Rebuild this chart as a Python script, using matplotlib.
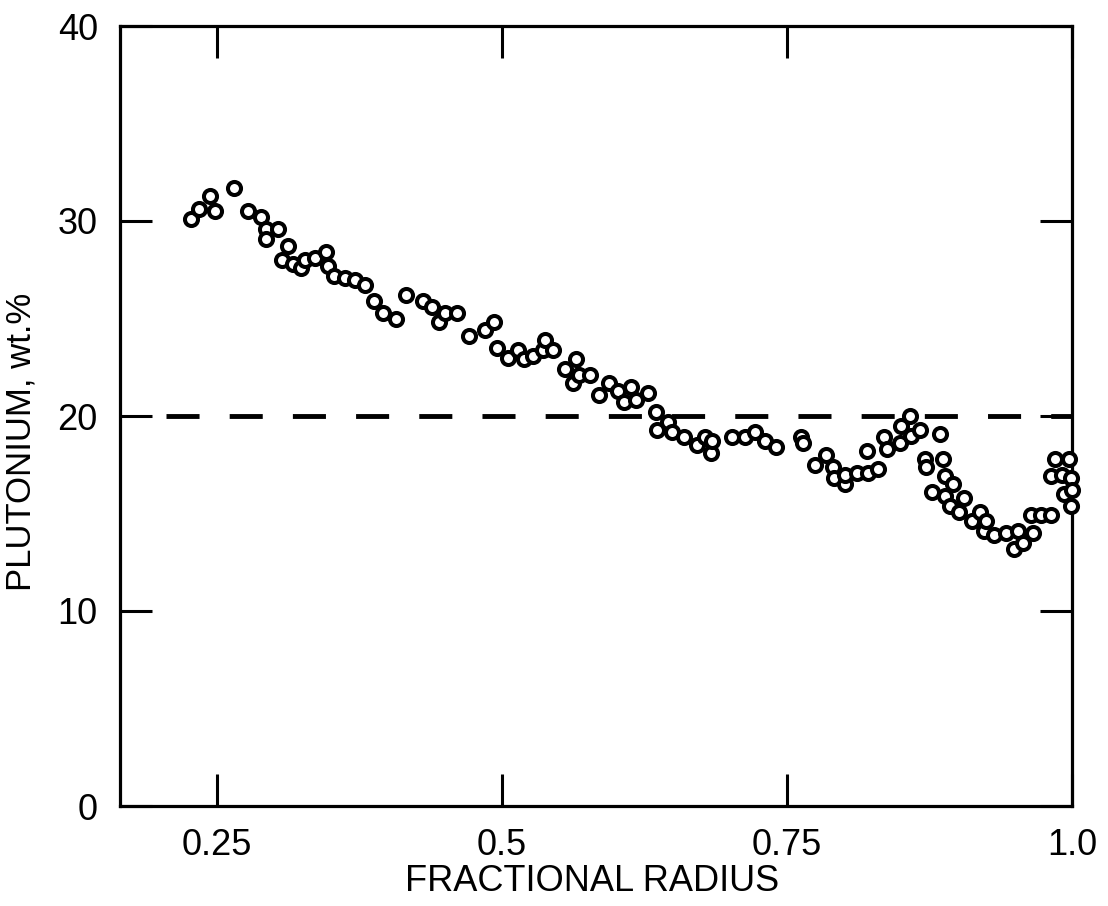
import matplotlib
matplotlib.use("Agg")
import matplotlib.pyplot as plt

# ---- data ----
radius = [0.227, 0.234, 0.244, 0.248, 0.265, 0.277, 0.289, 0.293, 0.293, 0.304,
          0.307, 0.312, 0.317, 0.324, 0.327, 0.336, 0.346, 0.347, 0.353, 0.362,
          0.371, 0.380, 0.388, 0.396, 0.407, 0.416, 0.431, 0.439, 0.445, 0.450,
          0.461, 0.471, 0.485, 0.493, 0.496, 0.505, 0.514, 0.519, 0.527, 0.536,
          0.538, 0.545, 0.555, 0.562, 0.565, 0.568, 0.577, 0.585, 0.594, 0.602,
          0.607, 0.613, 0.618, 0.628, 0.635, 0.636, 0.646, 0.649, 0.660, 0.671,
          0.678, 0.683, 0.684, 0.702, 0.713, 0.722, 0.731, 0.740, 0.762, 0.764,
          0.775, 0.784, 0.790, 0.791, 0.801, 0.801, 0.811, 0.820, 0.821, 0.830,
          0.835, 0.838, 0.849, 0.850, 0.858, 0.859, 0.867, 0.871, 0.872, 0.877,
          0.884, 0.887, 0.889, 0.889, 0.893, 0.896, 0.901, 0.905, 0.912, 0.919,
          0.923, 0.925, 0.932, 0.942, 0.949, 0.953, 0.957, 0.964, 0.966, 0.973,
          0.982, 0.982, 0.985, 0.991, 0.993, 0.997, 0.999, 0.999, 1.000]
plutonium = [30.1, 30.6, 31.3, 30.5, 31.7, 30.5, 30.2, 29.6, 29.1, 29.6,
             28.0, 28.7, 27.8, 27.6, 28.0, 28.1, 28.4, 27.7, 27.2, 27.1,
             27.0, 26.7, 25.9, 25.3, 25.0, 26.2, 25.9, 25.6, 24.8, 25.3,
             25.3, 24.1, 24.4, 24.8, 23.5, 23.0, 23.4, 22.9, 23.1, 23.4,
             23.9, 23.4, 22.4, 21.7, 22.9, 22.1, 22.1, 21.1, 21.7, 21.3,
             20.7, 21.5, 20.8, 21.2, 20.2, 19.3, 19.7, 19.2, 18.9, 18.5,
             18.9, 18.1, 18.7, 18.9, 18.9, 19.2, 18.7, 18.4, 18.9, 18.6,
             17.5, 18.0, 17.4, 16.8, 16.5, 17.0, 17.1, 18.2, 17.1, 17.3,
             18.9, 18.3, 18.6, 19.5, 20.0, 19.0, 19.3, 17.8, 17.4, 16.1,
             19.1, 17.8, 16.9, 15.9, 15.4, 16.5, 15.1, 15.8, 14.6, 15.1,
             14.1, 14.6, 13.9, 14.0, 13.2, 14.1, 13.5, 14.9, 14.0, 14.9,
             14.9, 16.9, 17.8, 17.0, 16.0, 17.8, 16.8, 15.4, 16.2]
ref_x = [0.205, 1.0]
ref_y = [20, 20]
xticks = [0.25, 0.5, 0.75, 1.0]
xtick_labels = ["0.25", "0.5", "0.75", "1.0"]
yticks = [0, 10, 20, 30, 40]
ytick_labels = ["0", "10", "20", "30", "40"]

plt.rcParams['font.family'] = ['Liberation Sans', 'DejaVu Sans']

fig = plt.figure(figsize=(11.08, 9.06), dpi=100)
W, H = 1108, 906
L, R, T, B = 120, 1072, 26, 806
ax = fig.add_axes([L / W, 1 - B / H, (R - L) / W, (B - T) / H])

ax.plot(ref_x, ref_y, color='black', lw=3.5, dashes=(6.8, 6.2), solid_capstyle='butt',
        dash_capstyle='butt')
ax.plot(radius, plutonium, linestyle='none', marker='o', ms=9.4, mfc='white',
        mec='black', mew=2.9, clip_on=False, zorder=3)

ax.set_xlim(0.165, 1.0)
ax.set_ylim(0, 40)
ax.set_xticks(xticks)
ax.set_xticklabels(xtick_labels)
ax.set_yticks(yticks)
ax.set_yticklabels(ytick_labels)

for s in ax.spines.values():
    s.set_linewidth(2.3)
ax.tick_params(axis='both', direction='in', length=23, width=2.2, top=True, right=True)
ax.tick_params(axis='x', labelsize=26, pad=16)
ax.tick_params(axis='y', labelsize=26, pad=16)

ax.set_xlabel("FRACTIONAL RADIUS", fontsize=26)
ax.set_ylabel("PLUTONIUM, wt.%", fontsize=25)
ax.xaxis.set_label_coords((592 - L) / (R - L), (B - 864) / (B - T))
ax.yaxis.set_label_coords((38 - L) / (R - L), (B - 442) / (B - T))

fig.savefig("out.png", dpi=100)
